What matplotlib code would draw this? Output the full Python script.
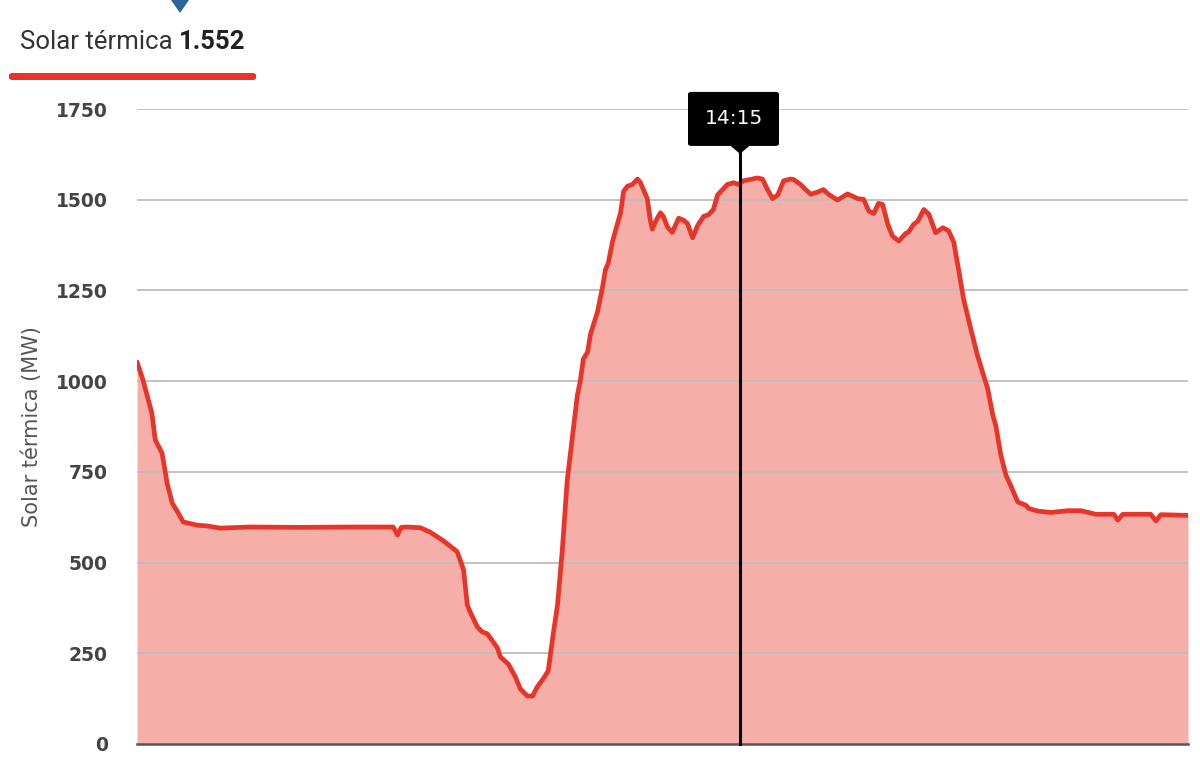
import matplotlib.pyplot as plt
from matplotlib.patches import FancyBboxPatch, Polygon

# hora (h) y potencia solar térmica (MW)
horas = [0.00, 0.14, 0.35, 0.43, 0.59, 0.71, 0.83, 0.97, 1.09, 1.42, 1.65, 1.96,
         2.67, 3.85, 5.03, 6.05, 6.15, 6.24, 6.38, 6.69, 6.92, 7.21, 7.40, 7.56,
         7.71, 7.80, 7.87, 8.04, 8.15, 8.27, 8.51, 8.58, 8.77, 8.93, 9.05, 9.22,
         9.34, 9.45, 9.60, 9.71, 9.83, 9.93, 10.04, 10.16, 10.28, 10.40, 10.47,
         10.54, 10.64, 10.71, 10.87, 10.99, 11.06, 11.13, 11.23, 11.30, 11.42,
         11.49, 11.58, 11.70, 11.82, 11.89, 12.05, 12.12, 12.17, 12.24, 12.36,
         12.43, 12.53, 12.64, 12.79, 12.90, 13.00, 13.12, 13.24, 13.38, 13.50,
         13.61, 13.71, 13.83, 13.94, 14.09, 14.20, 14.32, 14.65, 14.77, 14.89,
         15.01, 15.13, 15.27, 15.43, 15.50, 15.67, 15.79, 15.91, 16.07, 16.21,
         16.33, 16.54, 16.78, 17.02, 17.16, 17.28, 17.40, 17.51, 17.61, 17.73,
         17.84, 17.99, 18.15, 18.22, 18.34, 18.44, 18.58, 18.70, 18.86, 19.03,
         19.17, 19.29, 19.40, 19.52, 19.69, 19.85, 19.97, 20.09, 20.21, 20.28,
         20.40, 20.52, 20.63, 20.80, 20.99, 21.06, 21.27, 21.58, 21.98, 22.29,
         22.64, 23.07, 23.16, 23.28, 23.94, 24.06, 24.18, 24.82]
mw = [1053, 1003, 912, 838, 802, 719, 664, 637, 612, 603, 601, 595,
      598, 597, 598, 598, 576, 597, 598, 596, 584, 562, 545, 530,
      481, 383, 363, 322, 309, 304, 265, 240, 220, 186, 152, 132,
      132, 157, 181, 201, 304, 383, 530, 727, 844, 962, 1002,
      1061, 1080, 1130, 1189, 1257, 1306, 1326, 1385, 1415, 1464,
      1523, 1537, 1542, 1557, 1547, 1503, 1444, 1419, 1439, 1464,
      1454, 1424, 1410, 1449, 1444, 1434, 1395, 1429, 1454, 1459,
      1473, 1513, 1528, 1542, 1547, 1542, 1552, 1560, 1557, 1528,
      1503, 1513, 1552, 1557, 1556, 1542, 1528, 1515, 1521, 1528,
      1515, 1499, 1516, 1503, 1501, 1469, 1462, 1490, 1487, 1432,
      1400, 1386, 1407, 1411, 1432, 1441, 1473, 1460, 1409, 1423,
      1414, 1382, 1309, 1226, 1144, 1070, 1025, 979, 906, 878,
      796, 741, 713, 667, 658, 649, 642, 638, 643, 643,
      633, 633, 617, 633, 633, 615, 632, 630]
yticks = [0, 250, 500, 750, 1000, 1250, 1500, 1750]
cursor_h = 14.25
cursor_label = '14:15'
serie = 'Solar térmica'
valor_actual = '1.552'

ROJO = '#e8352a'
RELLENO = '#f5aea8'

fig = plt.figure(figsize=(12, 7.77), dpi=100)
ax = fig.add_axes([0.1142, 0.0425, 0.8758, 0.8172])

ax.fill_between(horas, 0, mw, color=RELLENO, lw=0, zorder=1)
ax.plot(horas, mw, color=ROJO, lw=3.4, solid_joinstyle='round', solid_capstyle='round', zorder=3)

ax.set_xlim(0, 24.82)
ax.set_ylim(0, 1750)
ax.set_yticks(yticks)
ax.set_xticks([])
ax.grid(axis='y', color='#bdbdbd', lw=1.3, zorder=2)
ax.set_axisbelow(False)
for s in ['top', 'right', 'left']:
    ax.spines[s].set_visible(False)
ax.spines['bottom'].set_color('#555555')
ax.spines['bottom'].set_linewidth(1.8)
ax.spines['bottom'].set_zorder(4)
ax.tick_params(axis='y', length=0, pad=21, labelsize=13.5, labelcolor='#444444')
for t in ax.get_yticklabels():
    t.set_fontweight('bold')
ax.set_ylabel('Solar térmica (MW)', fontsize=15, color='#555555', labelpad=10)

# cursor
ax.plot([cursor_h, cursor_h], [0, 1640], color='black', lw=2.2, zorder=5, clip_on=False)
caja = FancyBboxPatch((688 / 1200, 0.8122), 91 / 1200, 0.0695, boxstyle='round,pad=0,rounding_size=0.003',
                      transform=fig.transFigure, facecolor='black', edgecolor='none', zorder=6)
fig.patches.append(caja)
cx = 740 / 1200
fig.patches.append(Polygon([[cx - 0.008, 0.8125], [cx + 0.008, 0.8125], [cx, 0.802]], closed=True,
                           transform=fig.transFigure, facecolor='black', edgecolor='none', zorder=6))
fig.text(734 / 1200, 0.847, cursor_label, color='white', fontsize=14.5, ha='center', va='center', zorder=10)

# cabecera
t1 = fig.text(20 / 1200, 1 - 42 / 777, serie + ' ', fontsize=18.5, color='#333333', va='center', ha='left',
              family='Roboto')
ax.annotate(valor_actual, xy=(1, 0.5), xycoords=t1, xytext=(0, 0), textcoords='offset points',
            fontsize=18.5, color='#222222', fontweight='bold', va='center', ha='left', family='Roboto',
            annotation_clip=False)
fig.patches.append(FancyBboxPatch((9 / 1200, 1 - 80 / 777), 247 / 1200, 7 / 777,
                                  boxstyle='round,pad=0,rounding_size=0.003',
                                  transform=fig.transFigure, facecolor=ROJO, edgecolor='none'))
fig.patches.append(Polygon([[171 / 1200, 1.0], [189 / 1200, 1.0], [180 / 1200, 1 - 13 / 777]], closed=True,
                           transform=fig.transFigure, facecolor='#2b6699', edgecolor='none'))

fig.savefig('out.png', dpi=100)
